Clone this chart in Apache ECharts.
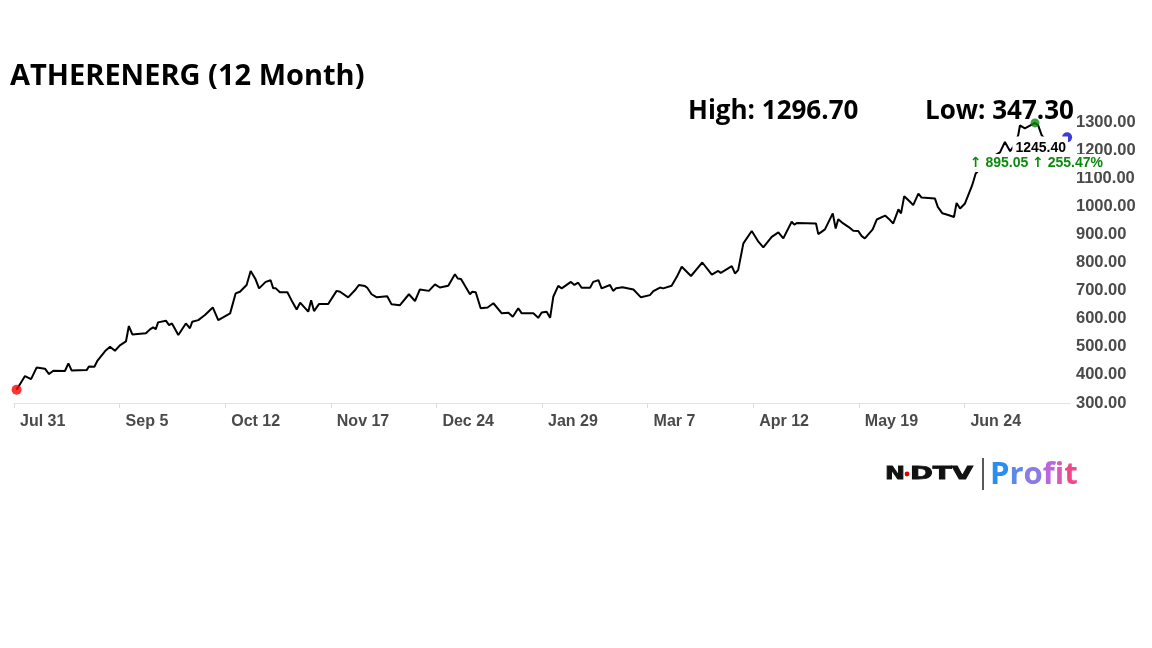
<!DOCTYPE html>
<html><head><meta charset="utf-8">
<script src="https://cdn.jsdelivr.net/npm/echarts@6/dist/echarts.min.js"></script>
<style>html,body{margin:0;padding:0;background:#fff}#c{width:1152px;height:648px}</style>
</head><body><div id="c"></div>
<script>
// Day offsets from 31 Jul 2025 and closing prices
const days = [0.9,3.8,5.9,7.8,10.7,12.1,13.6,17.6,18.8,19.9,25.1,25.9,27.8,28.8,31.5,33.2,34.9,36.6,38.7,39.7,40.9,45.6,47.0,48.1,49.0,49.8,52.5,53.6,54.6,56.8,59.4,60.8,61.6,63.7,66.0,68.7,70.6,74.7,76.6,78.1,80.4,81.8,83.5,84.7,87.0,88.7,89.6,90.5,91.9,94.5,96.2,97.7,98.9,101.7,102.7,103.7,105.4,108.6,111.5,112.7,115.5,117.9,119.2,121.3,122.1,123.6,125.4,129.0,130.5,133.4,136.5,138.6,140.3,143.4,145.5,147.2,150.1,152.4,153.4,154.5,157.6,158.4,159.6,161.3,163.7,165.7,168.6,170.9,172.4,174.3,175.5,179.5,181.2,182.4,184.1,185.3,186.4,188.1,189.3,192.5,193.7,195.0,196.2,199.1,200.2,202.0,203.1,206.0,207.1,208.1,208.7,210.3,214.1,216.7,219.8,221.0,223.3,224.4,227.3,229.1,230.8,234.0,236.2,237.9,241.2,243.4,244.3,248.1,249.2,250.3,252.1,255.0,257.3,259.0,261.9,264.2,265.9,268.8,269.7,270.7,277.2,278.0,280.3,283.0,284.0,284.9,286.6,288.4,290.1,291.8,293.0,294.1,296.8,298.2,301.1,302.8,303.9,305.7,306.6,307.7,309.7,310.8,312.6,313.7,318.3,319.3,320.9,322.9,324.9,325.8,327.0,328.7,331.2,332.4,335.6,338.4,340.8,342.5,344.3,345.6,347.1,347.7,349.4,352.9,354.0,355.2,358.1,360.8,364.0];
const prices = [347.30,396,385,426,422,403,415,414,441,416,417,430,429,450,485,500,486,505,519,574,544,548,562,569,563,587,593,577,583,542,583,566,589,595,613,640,595,619,690,696,720,770,740,708,731,737,708,708,694,694,660,633,657,625,666,627,652,652,699,696,676,702,720,716,710,687,676,680,651,648,687,663,704,699,722,711,717,758,743,741,687,696,694,637,640,655,619,621,607,637,619,619,603,622,625,603,678,717,708,731,720,728,710,710,731,737,708,720,699,708,702,712,704,676,684,698,711,708,717,749,785,752,779,800,757,770,763,787,761,773,868,912,874,854,891,907,886,945,935,941,939,901,918,975,921,954,939,927,913,912,894,886,918,953,967,951,939,989,975,1036,1016,1004,1045,1031,1028,998,975,969,962,1012,992,1010,1075,1117,1150,1178,1192,1229,1196,1215,1253,1288,1277,1296.70,1288,1253,1215,1225,1245.40];
const xTickLabels = ['Jul 31','Sep 5','Oct 12','Nov 17','Dec 24','Jan 29','Mar 7','Apr 12','May 19','Jun 24','Jul 31'];
const titleText = 'ATHERENERG (12 Month)';
const highText = 'High: 1296.70';
const lowText = 'Low: 347.30';
const lastText = '1245.40';
const changeValue = '895.05';
const changePct = '255.47%';

const chart = echarts.init(document.getElementById('c'), null, {renderer: 'canvas'});
const lineData = days.map((d, i) => [d, prices[i]]);
let maxI = 0;
prices.forEach((p, i) => { if (p > prices[maxI]) maxI = i; });
const lastI = prices.length - 1;

const greenFont = 'bold 14px "Liberation Sans"';
const arrowFont = 'bold 14px "DejaVu Sans"';
const pf = 'bold 31px "Open Sans"';

chart.setOption({
  animation: false,
  backgroundColor: '#fff',
  grid: {left: 14, right: 82, top: 122, bottom: 245},
  xAxis: {
    type: 'value', min: 0, max: 365, interval: 36.5,
    axisLine: {show: true, lineStyle: {color: '#e3e3e3', width: 1}},
    axisTick: {show: true, length: 5, lineStyle: {color: '#dcdcdc'}},
    splitLine: {show: false},
    axisLabel: {
      showMaxLabel: false, align: 'left', padding: [0, 0, 0, 6], margin: 11,
      color: '#4a4a4a', fontSize: 16, fontWeight: 'bold', fontFamily: 'Liberation Sans, Arial',
      formatter: v => xTickLabels[Math.round(v / 36.5)] || ''
    }
  },
  yAxis: {
    type: 'value', position: 'right', min: 300, max: 1300, interval: 100,
    axisLine: {show: false}, axisTick: {show: false}, splitLine: {show: false},
    axisLabel: {
      margin: 6, color: '#4a4a4a', fontSize: 16.5, fontWeight: 'bold', fontFamily: 'Liberation Sans, Arial',
      formatter: v => v.toFixed(2)
    }
  },
  series: [
    {type: 'line', data: lineData, showSymbol: false, z: 2,
     lineStyle: {color: '#000', width: 2}},
    {type: 'scatter', z: 3, symbolSize: 10,
     data: [
       {value: lineData[0], itemStyle: {color: '#ff0000'}},
       {value: lineData[maxI], symbolSize: 9, itemStyle: {color: '#0a8a0a'}},
       {value: lineData[lastI], itemStyle: {color: '#0a0ad0'}}
     ]}
  ],
  graphic: [
    {type: 'text', x: 10, y: 77, z: 1, style: {text: titleText, font: 'bold 29px "Open Sans"', fill: '#000', verticalAlign: 'middle'}},
    {type: 'text', x: 688, y: 112, z: 1, style: {text: highText, font: 'bold 26px "Open Sans"', fill: '#000', verticalAlign: 'middle'}},
    {type: 'text', x: 925, y: 112, z: 1, style: {text: lowText, font: 'bold 26px "Open Sans"', fill: '#000', verticalAlign: 'middle'}},
    {type: 'text', x: 1068, y: 148, z: 100, style: {text: lastText, font: 'bold 14px "Liberation Sans"', fill: '#000', align: 'right', verticalAlign: 'middle', backgroundColor: '#fff', padding: [6, 2, 3, 3]}},
    {type: 'text', x: 1104, y: 163, z: 100, style: {
      text: '{a|\u2191} {n|' + changeValue + '} {a|\u2191} {n|' + changePct + '}',
      align: 'right', verticalAlign: 'middle', backgroundColor: '#fff', padding: [2, 1, 2, 1],
      font: greenFont, fill: '#0a8a0a',
      rich: {a: {font: arrowFont, fill: '#0a8a0a'}, n: {font: greenFont, fill: '#0a8a0a'}}}},
    {type: 'text', x: 885, y: 474, z: 1, scaleX: 1.33, style: {text: 'N', font: 'bold 18px "DejaVu Sans"', fill: '#111', stroke: '#111', lineWidth: 0.8, verticalAlign: 'middle'}},
    {type: 'text', x: 910, y: 474, z: 1, scaleX: 1.53, style: {text: 'DTV', font: 'bold 18px "DejaVu Sans"', fill: '#111', stroke: '#111', lineWidth: 0.8, verticalAlign: 'middle'}},
    {type: 'circle', z: 2, shape: {cx: 907, cy: 474, r: 2.4}, style: {fill: '#e00000'}},
    {type: 'line', z: 1, shape: {x1: 983, y1: 458, x2: 983, y2: 490}, style: {stroke: '#222', lineWidth: 1.5}},
    {type: 'text', x: 990, y: 475, z: 1, style: {
      text: '{p|P}{r|r}{o|o}{f|f}{i|i}{t|t}', font: pf, verticalAlign: 'middle',
      rich: {
        p: {font: pf, fill: '#2a8ef0'}, r: {font: pf, fill: '#5c88ec'}, o: {font: pf, fill: '#8c7ae6'},
        f: {font: pf, fill: '#bb66dc'}, i: {font: pf, fill: '#da58bc'}, t: {font: pf, fill: '#f0468a'}
      }}}
  ]
});
</script>
</body></html>
